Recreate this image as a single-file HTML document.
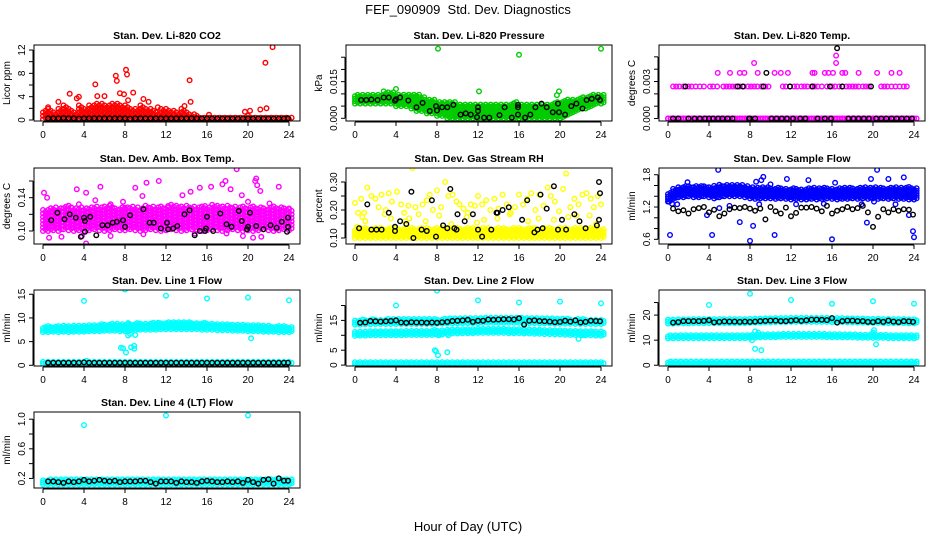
<!DOCTYPE html>
<html><head><meta charset="utf-8"><style>
html,body{margin:0;padding:0;background:#fff;}
svg{display:block;font-family:"Liberation Sans",Arial,sans-serif;}
</style></head><body>
<svg id="chart" width="936" height="540" viewBox="0 0 936 540" xmlns="http://www.w3.org/2000/svg">
<text x="468" y="14" font-size="13" text-anchor="middle">FEF_090909&#160; Std. Dev. Diagnostics</text>
<text x="468" y="531" font-size="13" text-anchor="middle">Hour of Day (UTC)</text>
</svg>
<script>
// ---------- data ----------
const xTicks = [0,4,8,12,16,20,24];
const halfHours = [0,0.5,1,1.5,2,2.5,3,3.5,4,4.5,5,5.5,6,6.5,7,7.5,8,8.5,9,9.5,10,10.5,11,11.5,12,12.5,13,13.5,14,14.5,15,15.5,16,16.5,17,17.5,18,18.5,19,19.5,20,20.5,21,21.5,22,22.5,23,23.5,24];
const blackTimes = [0.5,1,1.5,2,2.5,3,3.5,4,4.5,5,5.5,6,6.5,7,7.5,8,8.5,9,9.5,10,10.5,11,11.5,12,12.5,13,13.5,14,14.5,15,15.5,16,16.5,17,17.5,18,18.5,19,19.5,20,20.5,21,21.5,22,22.5,23,23.5,23.9];

// P1 CO2
const co2BandLo = [0.1,0.1,0.1,0.1,0.1,0.1,0.1,0.1,0.1,0.1,0.1,0.1,0.1,0.1,0.1,0.1,0.1,0.1,0.1,0.1,0.1,0.1,0.1,0.1,0.1,0.1,0.1,0.1,0.1,0.1,0.1,0.1,0.1,0.1,0.1,0.1,0.1,0.1,0.1,0.1,0.1,0.1,0.1,0.1,0.1,0.1,0.1,0.1,0.1];
const co2BandHi = [1.8,2,1.5,2,2.5,2,1.5,2.5,2,2.5,3,3,2.5,3,3,2.5,2.5,2,2,2.5,2,2,1.5,2,2,1.8,1.5,2,1.5,1.2,0.8,0.6,0.6,0.5,0.4,0.4,0.5,0.4,0.5,0.6,0.8,0.6,0.5,0.6,0.6,0.5,0.6,0.5,0.4];
const co2OutT = [0.5,1.5,2.6,3.3,3.5,5.1,5.3,6,7.1,7.2,7.5,7.9,8.1,8.2,8.3,8.8,9.8,10.3,11.2,14.3,14.4,13.8,16.2,19.7,20.2,21.2,21.7,21.8,22.4];
const co2OutV = [2.2,3.1,4.5,3.7,4.0,6.1,4.1,4.1,7.6,6.7,4.6,4.4,8.6,7.8,3.4,4.7,3.6,3.1,2.2,6.8,3.1,2.4,0.9,1.4,1.6,1.8,9.8,2.0,12.5];
const co2Black = [0.3,0.3,0.3,0.35,0.3,0.3,0.25,0.3,0.3,0.3,0.3,0.3,0.3,0.3,0.3,0.3,0.25,0.3,0.3,0.3,0.3,0.3,0.3,0.3,0.3,0.3,0.3,0.3,0.3,0.3,0.3,0.3,0.3,0.3,0.3,0.3,0.3,0.3,0.3,0.3,0.3,0.3,0.3,0.3,0.3,0.3,0.3,0.3];

// P2 Pressure
const presBandHi = [.010,.010,.010,.010,.010,.010,.011,.011,.010,.010,.010,.010,.010,.009,.008,.008,.007,.007,.007,.007,.006,.006,.006,.006,.006,.006,.006,.006,.006,.006,.006,.007,.006,.006,.006,.006,.006,.006,.006,.007,.007,.008,.008,.008,.009,.009,.010,.010,.010];
const presBandLo = [.006,.006,.006,.006,.006,.006,.006,.006,.005,.005,.005,.004,.003,.003,.002,.002,.001,.001,.000,.000,.000,.000,.000,.000,.000,.000,.000,.000,.000,.000,.000,.000,.000,.000,.000,.000,.000,.000,.000,.000,.000,.001,.002,.003,.004,.004,.005,.006,.006];
const presOutT = [8.1,16,24,12.1,19.9,4,2.8,19.7];
const presOutV = [0.0285,0.026,0.0285,0.011,0.011,0.012,0.011,0.0095];
const presBlackT = [0.6,1.1,1.6,2.2,2.8,3.3,3.9,4,4.4,5.2,6,6.6,7.3,7.9,8,8.5,9,9.6,10.3,10.8,11.3,11.9,12,12,12.6,13.1,14.1,14.6,15.3,15.9,15.9,15.9,16.6,17.1,17.6,18.2,18.7,19.3,19.8,19.9,20.5,21.1,21.6,22.2,22.6,23.1,23.7,23.9];
const presBlackV = [.0075,.0075,.0077,.0075,.0085,.0085,.0072,.0078,.0085,.0073,.0045,.0063,.0030,.0050,.0032,.0045,.0045,.0055,.0015,.0020,.0015,.0005,.0030,.0045,.0003,.0003,.0013,.0045,.0003,.0015,.0045,.0055,.0003,.0015,.0045,.0060,.0045,.0025,.0060,.0025,.0015,.0050,.0060,.0040,.0075,.0080,.0085,.0075];

// P3 Temp
const tempZeroLo = [0,0,0,0,0,0,0,0,0,0,0,0,0,0,0,0,0,0,0,0,0,0,0,0,0,0,0,0,0,0,0,0,0,0,0,0,0,0,0,0,0,0,0,0,0,0,0,0,0];
const tempZeroHi = [0,0,0,0,0,0,0,0,0,0,0,0,0,0,0,0,0,0,0,0,0,0,0,0,0,0,0,0,0,0,0,0,0,0,0,0,0,0,0,0,0,0,0,0,0,0,0,0,0];
const tempMidT = [0.5,0.8,1.1,1.5,2.0,2.3,2.7,3.1,3.5,4.1,4.4,4.8,5.4,5.7,6.0,6.3,6.6,7.0,7.4,7.8,8.1,8.4,8.7,9.1,9.5,9.8,11.2,11.5,11.9,12.3,12.6,13.0,13.3,13.6,14.0,14.3,14.6,15.0,15.5,16.0,16.3,16.7,17.0,17.4,17.7,18.0,18.3,18.6,19.0,19.3,19.6,20.8,21.1,21.4,21.8,22.2,22.6,23.0,23.3];
const tempMidV = [.0026,.0026,.0026,.0026,.0026,.0026,.0026,.0026,.0026,.0026,.0026,.0026,.0026,.0026,.0026,.0026,.0026,.0026,.0026,.0026,.0026,.0026,.0026,.0026,.0026,.0026,.0026,.0026,.0026,.0026,.0026,.0026,.0026,.0026,.0026,.0026,.0026,.0026,.0026,.0026,.0026,.0026,.0026,.0026,.0026,.0026,.0026,.0026,.0026,.0026,.0026,.0026,.0026,.0026,.0026,.0026,.0026,.0026,.0026];
const tempHiT = [4.85,6.05,7.0,7.45,8.4,8.75,10.4,11.0,11.7,14.1,14.3,15.3,15.65,16.1,16.4,16.4,17.0,17.3,18.6,20.4,21.8,22.6];
const tempHiV = [.0037,.0037,.0037,.0037,.0045,.0037,.0037,.0037,.0037,.0037,.0037,.0037,.0037,.0037,.0045,.0051,.0037,.0037,.0037,.0037,.0037,.0037];
const tempBlackT = [0.5,1,1.7,2,2.6,3.1,3.6,4,4.4,4.9,5.3,5.8,6.3,6.8,7.3,7.9,8,8.5,9.3,9.6,10.1,10.6,11.1,11.6,11.9,12.2,12.9,13.4,14.1,14.6,15.3,15.8,15.9,16.5,17.0,17.6,18.1,18.6,19.1,19.6,19.8,20.3,20.8,21.3,21.8,22.3,22.8,23.3,23.8];
const tempBlackV = [0,0,.0026,0,0,0,0,0,0,0,0,0,0,.0026,.0026,0,0,0,.0026,.0037,0,0,0,0,.0026,0,0,0,.0026,0,0,.0026,0,.0057,.0026,0,0,0,0,0,.0026,0,0,0,0,0,0,0,0];

// P4 Amb box temp
const ambBandLo = [.100,.100,.101,.100,.102,.101,.100,.101,.100,.101,.102,.101,.100,.101,.102,.101,.101,.102,.101,.100,.101,.102,.101,.100,.101,.102,.101,.100,.101,.102,.101,.100,.101,.102,.101,.100,.101,.102,.101,.100,.101,.100,.101,.102,.101,.100,.101,.102,.101];
const ambBandHi = [.126,.128,.130,.128,.130,.131,.129,.130,.128,.130,.131,.129,.130,.131,.129,.130,.130,.131,.130,.129,.131,.130,.129,.131,.130,.132,.131,.130,.132,.131,.130,.131,.130,.132,.131,.130,.132,.131,.130,.131,.130,.131,.130,.129,.130,.131,.130,.129,.128];
const ambOutT = [0.1,0.4,0.9,1.5,2.8,3.3,3.5,4.2,4.4,5.1,5.6,6.6,7.8,8,8.7,9.0,9.7,10.1,11.3,12.2,13.6,14.4,15.3,15.8,16.4,17.5,17.8,18.3,19.4,20.0,20.7,21.2,22.1,23.0,24,4.2,1.8,0.6,3.8,9.8,14.8,17.9,20.5,21.3,19.5,6.6,18.9,20.8,20.9];
const ambOutV = [.146,.14,.124,.125,.128,.15,.132,.146,.123,.137,.153,.132,.135,.128,.125,.152,.142,.158,.16,.13,.143,.147,.152,.13,.153,.156,.16,.15,.143,.135,.16,.148,.133,.153,.127,.085,.093,.092,.094,.096,.097,.097,.092,.093,.094,.094,.174,.163,.155];
const ambBlackT = [0.8,1.4,2.1,2.6,3.2,3.7,4.0,4.1,4.1,4.6,5.2,5.8,6.3,6.8,7.2,7.8,8,8.5,9,9.8,10.4,10.8,11.5,12.1,12.2,12.7,13.1,13.8,14.3,14.8,15.3,15.8,15.9,16,16.6,17.3,17.9,18.4,19.1,19.4,19.9,20,20.2,20.8,21.5,22.2,22.8,23.3,23.8,23.9,23.9];
const ambBlackV = [.113,.122,.114,.12,.116,.093,.116,.112,.099,.117,.095,.107,.107,.110,.111,.113,.105,.119,.081,.126,.110,.110,.103,.110,.102,.103,.106,.120,.125,.095,.100,.100,.103,.117,.100,.121,.108,.105,.124,.112,.102,.105,.122,.106,.102,.107,.104,.111,.099,.105,.116];

// P5 RH
const rhBandLo = [.100,.100,.100,.100,.100,.100,.100,.100,.100,.100,.100,.100,.100,.100,.100,.100,.100,.100,.100,.100,.100,.100,.100,.100,.100,.100,.100,.100,.100,.100,.100,.100,.100,.100,.100,.100,.100,.100,.100,.100,.100,.100,.100,.100,.100,.100,.100,.100,.100];
const rhBandHi = [.135,.14,.14,.135,.14,.14,.135,.14,.14,.135,.14,.14,.135,.14,.14,.135,.14,.14,.135,.14,.14,.135,.14,.14,.135,.14,.14,.135,.14,.14,.135,.14,.14,.135,.14,.14,.135,.14,.14,.135,.14,.14,.135,.14,.14,.135,.14,.14,.135];
const rhOutT = [0,.3,.6,.9,1.2,1.6,2,2.3,2.6,3,3.3,3.6,4.1,4.5,4.8,5.2,5.6,5.9,6.2,6.6,7,7.3,7.6,8,8.4,8.8,9.1,9.5,9.9,10.2,10.6,11,11.3,11.7,12,12.4,12.8,13.2,13.6,14,14.4,14.8,15.2,15.6,16,16.4,16.8,17.2,17.6,18,18.4,18.8,19.1,19.5,19.9,20.3,20.6,21,21.4,21.8,22.2,22.6,23,23.3,23.7,24,0.2,1.0,3.5,4.9,6.9,9.4,11.9,13.9,16.9,19.4,21.6,23.5,0.7,2.9,5.3,8.2,10.9,12.6,15.1,17.9,20.8,22.9];
const rhOutV = [.225,.19,.24,.19,.28,.25,.24,.21,.255,.2,.26,.23,.265,.22,.19,.215,.35,.21,.185,.22,.235,.255,.2,.27,.21,.3,.25,.255,.23,.22,.205,.19,.22,.215,.25,.22,.235,.2,.24,.205,.255,.22,.19,.21,.255,.22,.24,.26,.2,.255,.215,.28,.25,.23,.195,.275,.33,.21,.24,.22,.255,.26,.24,.21,.25,.22,.14,.16,.17,.16,.16,.15,.155,.17,.16,.165,.18,.15,.175,.185,.17,.18,.175,.165,.185,.17,.175,.18];
const rhBlackT = [0.4,1.2,1.6,2.1,2.6,3.3,3.9,3.9,4.4,5.0,5.5,5.7,6.5,7.0,7.5,7.9,8.6,9.0,9.3,9.7,9.9,10,10.7,11.5,12,12.4,13.3,13.8,13.9,14.4,15.0,16.3,16.8,17.5,17.8,18.1,18.3,18.7,19.4,19.8,20.2,20.6,21.4,21.9,22.5,23.6,23.8,23.8,23.9];
const rhBlackV = [.135,.22,.13,.13,.13,.19,.14,.125,.16,.15,.265,.1,.13,.125,.235,.105,.145,.135,.275,.135,.13,.185,.16,.185,.13,.105,.13,.19,.19,.2,.21,.165,.235,.12,.13,.255,.135,.205,.285,.13,.165,.13,.185,.16,.135,.145,.165,.3,.26];

// P6 Sample flow
const flowBandLo = [1.30,1.35,1.38,1.38,1.40,1.38,1.38,1.40,1.38,1.36,1.38,1.40,1.40,1.40,1.40,1.38,1.36,1.35,1.36,1.36,1.36,1.35,1.36,1.35,1.34,1.35,1.34,1.34,1.35,1.34,1.35,1.36,1.35,1.34,1.35,1.35,1.36,1.35,1.36,1.35,1.36,1.35,1.36,1.35,1.36,1.35,1.35,1.34,1.34];
const flowBandHi = [1.48,1.55,1.58,1.60,1.60,1.60,1.60,1.60,1.58,1.60,1.62,1.62,1.63,1.63,1.62,1.60,1.58,1.58,1.58,1.58,1.56,1.56,1.56,1.55,1.55,1.55,1.54,1.56,1.56,1.56,1.56,1.55,1.55,1.56,1.56,1.56,1.56,1.56,1.58,1.58,1.58,1.58,1.56,1.56,1.57,1.58,1.58,1.58,1.56];
const flowOutT = [0.2,4.9,4.3,8.0,8.3,10.4,16.0,20.4,24,23.9,19.4,1.9,8.6,9.1,10,11.6,13.7,16.3,19.8,21.5,23.0,23.5,5.0,9.3,3.8,6.0,8.9,7.0,18.9,20.1,0.1,0.4,0.9,12.5,15.2,22.2];
const flowOutV = [0.68,1.89,0.68,0.57,0.85,0.68,0.6,1.89,0.64,0.75,0.91,1.66,1.67,1.70,1.62,1.72,1.70,1.65,1.72,1.72,1.75,1.05,1.18,1.76,1.05,1.22,1.25,0.92,1.25,1.30,1.30,1.26,1.25,1.25,1.26,1.25];
const flowBlackV = [1.17,1.12,1.14,1.08,1.16,1.18,1.20,1.10,1.15,1.03,1.08,1.16,1.19,1.18,1.20,1.17,1.13,1.17,0.97,1.20,1.12,1.08,1.19,1.03,1.09,1.19,1.19,1.20,1.17,1.12,1.22,1.08,1.13,1.16,1.20,1.16,1.18,1.22,1.10,0.83,1.02,1.16,1.10,1.16,1.13,1.16,1.15,1.06];

// P7 Line 1
const l1UpperLo = [7.0,7.0,7.1,7.0,7.1,7.0,7.1,7.1,7.1,7.2,7.2,7.2,7.3,7.3,7.3,7.2,7.2,7.4,7.4,7.5,7.5,7.5,7.5,7.6,7.6,7.6,7.6,7.6,7.6,7.6,7.6,7.5,7.5,7.5,7.4,7.4,7.4,7.3,7.3,7.3,7.2,7.2,7.2,7.1,7.1,7.1,7.0,7.0,7.0];
const l1UpperHi = [8.2,8.3,8.3,8.4,8.4,8.4,8.5,8.5,8.5,8.6,8.6,8.7,8.7,8.8,8.8,8.7,8.7,8.8,8.9,8.9,8.9,9.0,9.0,9.0,9.1,9.1,9.1,9.1,9.1,9.0,9.0,9.0,8.9,8.9,8.8,8.8,8.7,8.7,8.6,8.6,8.5,8.5,8.5,8.4,8.4,8.3,8.3,8.3,8.2];
const l1LowerLo = [0.3,0.3,0.3,0.3,0.3,0.3,0.3,0.3,0.3,0.3,0.3,0.3,0.3,0.3,0.3,0.3,0.3,0.3,0.3,0.3,0.3,0.3,0.3,0.3,0.3,0.3,0.3,0.3,0.3,0.3,0.3,0.3,0.3,0.3,0.3,0.3,0.3,0.3,0.3,0.3,0.3,0.3,0.3,0.3,0.3,0.3,0.3,0.3,0.3];
const l1LowerHi = [0.9,0.9,0.9,0.9,0.9,0.9,0.9,0.9,1.0,0.9,0.9,0.9,0.9,0.9,0.9,0.9,0.9,0.9,0.9,0.9,0.9,0.9,0.9,0.9,0.9,0.9,0.9,0.9,0.9,0.9,0.9,0.9,0.9,0.9,0.9,0.9,0.9,0.9,0.9,0.9,0.9,0.9,0.9,0.9,0.9,0.9,0.9,0.9,0.9];
const l1OutT = [4,8,12,16,20,24,7.8,8.1,8.3,8.6,8.9,8.9,9,8.5,20.3,9.2,8.3,7.6];
const l1OutV = [13.6,16,14.7,14.1,14.3,13.7,3.6,2.7,6.3,3.8,4.1,3.5,6.4,6.6,5.7,8.9,8.9,3.7];
const l1BlackV = [0.55,0.55,0.55,0.55,0.55,0.55,0.55,0.6,0.55,0.55,0.55,0.55,0.55,0.55,0.55,0.55,0.55,0.55,0.55,0.55,0.55,0.55,0.55,0.55,0.55,0.55,0.55,0.55,0.55,0.55,0.55,0.55,0.55,0.55,0.55,0.55,0.55,0.55,0.55,0.55,0.55,0.55,0.55,0.55,0.55,0.55,0.55,0.55];

// P8 Line 2
const l2UpperLo = [13.6,13.6,13.7,13.7,13.8,13.8,13.8,13.8,13.8,13.8,13.8,13.8,13.8,13.8,13.8,13.8,13.9,13.9,14.0,14.0,14.0,14.1,14.1,14.1,14.1,14.2,14.2,14.2,14.2,14.2,14.2,14.2,14.2,14.1,14.1,14.1,14.0,14.0,14.0,13.9,13.9,13.9,13.9,13.8,13.8,13.8,13.8,13.8,13.8];
const l2UpperHi = [15.2,15.3,15.3,15.4,15.4,15.4,15.5,15.5,15.5,15.5,15.5,15.5,15.5,15.5,15.5,15.5,15.5,15.6,15.7,15.7,15.8,15.8,15.9,15.9,16.0,16.0,16.1,16.1,16.1,16.1,16.1,16.0,16.0,16.0,15.9,15.9,15.8,15.8,15.7,15.7,15.6,15.6,15.5,15.5,15.5,15.4,15.4,15.4,15.3];
const l2MidLo = [9.8,9.9,9.9,10.0,10.0,10.0,10.0,10.0,10.0,10.0,10.1,10.1,10.1,10.1,10.1,10.1,10.2,10.3,10.5,10.6,10.6,10.7,10.7,10.7,10.8,10.8,10.8,10.8,10.8,10.8,10.7,10.7,10.7,10.6,10.6,10.5,10.5,10.4,10.4,10.3,10.3,10.2,10.1,10.1,10.0,10.0,10.0,9.9,9.9];
const l2MidHi = [11.2,11.3,11.3,11.4,11.4,11.4,11.5,11.5,11.5,11.5,11.6,11.6,11.6,11.7,11.7,11.8,11.8,11.9,12.0,12.1,12.1,12.2,12.2,12.2,12.3,12.3,12.3,12.3,12.3,12.3,12.2,12.2,12.2,12.1,12.1,12.0,12.0,12.0,11.9,11.9,11.8,11.8,11.7,11.6,11.6,11.5,11.5,11.4,11.4];
const l2LowLo = [0.3,0.3,0.3,0.3,0.3,0.3,0.3,0.3,0.3,0.3,0.3,0.3,0.3,0.3,0.3,0.3,0.3,0.3,0.3,0.3,0.3,0.3,0.3,0.3,0.3,0.3,0.3,0.3,0.3,0.3,0.3,0.3,0.3,0.3,0.3,0.3,0.3,0.3,0.3,0.3,0.3,0.3,0.3,0.3,0.3,0.3,0.3,0.3,0.3];
const l2LowHi = [1.2,1.2,1.2,1.2,1.2,1.2,1.2,1.2,1.2,1.2,1.2,1.2,1.2,1.2,1.2,1.2,1.2,1.2,1.2,1.2,1.2,1.2,1.2,1.2,1.2,1.2,1.2,1.2,1.2,1.2,1.2,1.2,1.2,1.2,1.2,1.2,1.2,1.2,1.2,1.2,1.2,1.2,1.2,1.2,1.2,1.2,1.2,1.2,1.2];
const l2OutT = [4,8,12,16,20,24,7.8,8.1,9,7.9,8.2,9.1,21.8,22.3,10.6];
const l2OutV = [20,25,21.7,21,21.3,20.7,5,3.3,4.3,4.6,10,10,8.8,10,0];
const l2BlackV = [14.2,14.3,14.8,14.7,14.6,14.7,14.8,15.0,14.3,14.2,14.4,14.3,14.3,14.2,14.3,14.2,14.4,14.5,14.8,14.9,15.0,15.2,14.5,14.9,14.9,15.3,15.2,15.3,15.4,15.4,15.3,15.7,13.6,14.9,15.0,14.8,14.7,14.6,14.4,14.5,14.9,14.6,15.0,14.3,14.5,14.9,14.8,14.7];

// P9 Line 3
const l3UpperLo = [16.6,16.6,16.7,16.7,16.7,16.8,16.8,16.8,16.8,16.8,16.8,16.8,16.8,16.8,16.8,16.8,16.9,17.0,17.0,17.1,17.1,17.2,17.2,17.2,17.3,17.3,17.3,17.3,17.3,17.3,17.3,17.3,17.2,17.2,17.2,17.1,17.1,17.0,17.0,16.9,16.9,16.9,16.8,16.8,16.8,16.8,16.8,16.7,16.7];
const l3UpperHi = [18.2,18.3,18.3,18.4,18.4,18.4,18.4,18.5,18.5,18.5,18.5,18.5,18.5,18.5,18.5,18.5,18.6,18.7,18.8,18.9,19.0,19.0,19.1,19.1,19.2,19.2,19.2,19.2,19.2,19.2,19.1,19.1,19.1,19.0,19.0,18.9,18.9,18.8,18.8,18.7,18.7,18.6,18.6,18.5,18.5,18.5,18.4,18.4,18.4];
const l3MidLo = [10.7,10.7,10.8,10.8,10.8,10.8,10.8,10.8,10.8,10.8,10.8,10.8,10.8,10.8,10.8,10.8,10.9,11.0,11.1,11.2,11.2,11.2,11.3,11.3,11.3,11.3,11.3,11.3,11.3,11.3,11.3,11.2,11.2,11.2,11.1,11.1,11.1,11.0,11.0,11.0,10.9,10.9,10.9,10.8,10.8,10.8,10.8,10.8,10.7];
const l3MidHi = [12.0,12.0,12.1,12.1,12.1,12.1,12.1,12.1,12.1,12.1,12.1,12.1,12.1,12.1,12.1,12.1,12.2,12.3,12.4,12.5,12.5,12.6,12.6,12.6,12.6,12.6,12.6,12.6,12.6,12.6,12.5,12.5,12.5,12.5,12.4,12.4,12.4,12.3,12.3,12.3,12.2,12.2,12.2,12.1,12.1,12.1,12.0,12.0,12.0];
const l3LowLo = [0.3,0.3,0.3,0.3,0.3,0.3,0.3,0.3,0.3,0.3,0.3,0.3,0.3,0.3,0.3,0.3,0.3,0.3,0.3,0.3,0.3,0.3,0.3,0.3,0.3,0.3,0.3,0.3,0.3,0.3,0.3,0.3,0.3,0.3,0.3,0.3,0.3,0.3,0.3,0.3,0.3,0.3,0.3,0.3,0.3,0.3,0.3,0.3,0.3];
const l3LowHi = [1.5,1.5,1.5,1.5,1.5,1.5,1.5,1.5,1.5,1.5,1.5,1.5,1.5,1.5,1.5,1.5,1.5,1.5,1.5,1.5,1.5,1.5,1.5,1.5,1.5,1.5,1.5,1.5,1.5,1.5,1.5,1.5,1.5,1.5,1.5,1.5,1.5,1.5,1.5,1.5,1.5,1.5,1.5,1.5,1.5,1.5,1.5,1.5,1.5];
const l3OutT = [4,8,12,16,20,24,8.2,8.5,9.1,8.8,20.1,20.3,20,8.5,9.0];
const l3OutV = [24,28.5,26,24.5,25.5,24.5,10,6.5,6,13,14,8.3,13,13.5,0];
const l3BlackV = [17.0,17.2,17.6,17.6,17.6,17.6,17.7,17.9,17.1,17.3,17.5,17.4,17.4,17.3,17.4,17.3,17.4,17.6,17.7,17.8,17.8,17.6,17.6,17.8,18.0,17.7,17.9,18.2,18.2,18.1,18.0,18.8,17.0,17.6,17.8,17.8,17.6,17.6,17.3,17.2,17.6,17.3,17.8,17.4,17.2,17.6,17.5,17.3];

// P10 Line 4
const l4BandLo = [0.12,0.12,0.12,0.12,0.12,0.12,0.12,0.12,0.12,0.12,0.12,0.12,0.12,0.12,0.12,0.12,0.12,0.12,0.12,0.12,0.12,0.12,0.12,0.12,0.12,0.12,0.12,0.12,0.12,0.12,0.12,0.12,0.12,0.12,0.12,0.12,0.12,0.12,0.12,0.12,0.12,0.12,0.12,0.12,0.12,0.12,0.12,0.12,0.12];
const l4BandHi = [0.18,0.19,0.19,0.19,0.19,0.19,0.19,0.20,0.19,0.19,0.19,0.19,0.19,0.19,0.20,0.19,0.19,0.19,0.19,0.19,0.19,0.19,0.19,0.19,0.19,0.19,0.19,0.19,0.19,0.19,0.19,0.19,0.19,0.19,0.19,0.19,0.19,0.19,0.19,0.19,0.20,0.19,0.19,0.19,0.19,0.19,0.19,0.19,0.19];
const l4OutT = [4,12,20];
const l4OutV = [0.92,1.05,1.05];
const l4BlackV = [0.16,0.16,0.15,0.14,0.16,0.15,0.16,0.18,0.16,0.17,0.18,0.17,0.16,0.17,0.15,0.16,0.16,0.16,0.17,0.17,0.15,0.13,0.16,0.16,0.16,0.14,0.16,0.15,0.15,0.14,0.16,0.17,0.16,0.15,0.15,0.16,0.15,0.16,0.14,0.18,0.15,0.13,0.18,0.19,0.13,0.20,0.17,0.17];

// ---------- rendering ----------
const NS = 'http://www.w3.org/2000/svg';
const svg = document.getElementById('chart');
const RED='#ff0000', GREEN='#00cc00', MAG='#ff00ff', YEL='#ffff00', BLUE='#0000ff', CYAN='#00ffff', BLK='#000000';
function mk(tag, attrs){ const e=document.createElementNS(NS,tag); for(const k in attrs) e.setAttribute(k,attrs[k]); return e; }

const panels = [
 {key:'co2', col:0,row:0,title:'Stan. Dev. Li-820 CO2',ylab:'Licor ppm',ylim:[-0.17,12.86],ticks:[0,2,4,6,8,10,12],labels:[0,4,8,12],fmt:0,
  bands:[[RED,co2BandLo,co2BandHi,3.5]],pts:[[RED,co2OutT,co2OutV],[BLK,blackTimes,co2Black]]},
 {key:'pressure', col:1,row:0,title:'Stan. Dev. Li-820 Pressure',ylab:'kPa',ylim:[-0.0011,0.030],ticks:[0,0.005,0.01,0.015,0.02,0.025],labels:[0,0.015],fmt:3,
  bands:[[GREEN,presBandLo,presBandHi,2.5]],pts:[[GREEN,presOutT,presOutV],[BLK,presBlackT,presBlackV]]},
 {key:'temp', col:2,row:0,title:'Stan. Dev. Li-820 Temp.',ylab:'degrees C',ylim:[-0.0002,0.00596],ticks:[0,0.001,0.002,0.003,0.004,0.005],labels:[0,0.003],fmt:3,
  bands:[[MAG,tempZeroLo,tempZeroHi,2]],pts:[[MAG,tempMidT,tempMidV],[MAG,tempHiT,tempHiV],[BLK,tempBlackT,tempBlackV]]},
 {key:'amb-box-temp', col:0,row:1,title:'Stan. Dev. Amb. Box Temp.',ylab:'degrees C',ylim:[0.0844,0.1756],ticks:[0.10,0.12,0.14,0.16],labels:[0.10,0.14],fmt:2,
  bands:[[MAG,ambBandLo,ambBandHi,3.5]],pts:[[MAG,ambOutT,ambOutV],[BLK,ambBlackT,ambBlackV]]},
 {key:'gas-rh', col:1,row:1,title:'Stan. Dev. Gas Stream RH',ylab:'percent',ylim:[0.0786,0.35],ticks:[0.10,0.15,0.20,0.25,0.30],labels:[0.10,0.20,0.30],fmt:2,
  bands:[[YEL,rhBandLo,rhBandHi,2.5]],pts:[[YEL,rhOutT,rhOutV],[BLK,rhBlackT,rhBlackV]]},
 {key:'sample-flow', col:2,row:1,title:'Stan. Dev. Sample Flow',ylab:'ml/min',ylim:[0.513,1.925],ticks:[0.6,0.8,1.0,1.2,1.4,1.6,1.8],labels:[0.6,1.2,1.8],fmt:1,
  bands:[[BLUE,flowBandLo,flowBandHi,2.5]],pts:[[BLUE,flowOutT,flowOutV],[BLK,blackTimes,flowBlackV]]},
 {key:'line1-flow', col:0,row:2,title:'Stan. Dev. Line 1 Flow',ylab:'ml/min',ylim:[-0.15,15.9],ticks:[0,5,10,15],labels:[0,5,10,15],fmt:0,
  bands:[[CYAN,l1UpperLo,l1UpperHi,2],[CYAN,l1LowerLo,l1LowerHi,2]],pts:[[CYAN,l1OutT,l1OutV],[BLK,blackTimes,l1BlackV]]},
 {key:'line2-flow', col:1,row:2,title:'Stan. Dev. Line 2 Flow',ylab:'ml/min',ylim:[-0.3,25.2],ticks:[0,5,10,15,20],labels:[0,5,15],fmt:0,
  bands:[[CYAN,l2UpperLo,l2UpperHi,2],[CYAN,l2MidLo,l2MidHi,2],[CYAN,l2LowLo,l2LowHi,2]],pts:[[CYAN,l2OutT,l2OutV],[BLK,blackTimes,l2BlackV]]},
 {key:'line3-flow', col:2,row:2,title:'Stan. Dev. Line 3 Flow',ylab:'ml/min',ylim:[-0.3,30],ticks:[0,10,20,25],labels:[0,10,20],fmt:0,
  bands:[[CYAN,l3UpperLo,l3UpperHi,2],[CYAN,l3MidLo,l3MidHi,2],[CYAN,l3LowLo,l3LowHi,2]],pts:[[CYAN,l3OutT,l3OutV],[BLK,blackTimes,l3BlackV]]},
 {key:'line4-flow', col:0,row:3,title:'Stan. Dev. Line 4 (LT) Flow',ylab:'ml/min',ylim:[0.071,1.097],ticks:[0.2,0.4,0.6,0.8,1.0],labels:[0.2,0.6,1.0],fmt:1,
  bands:[[CYAN,l4BandLo,l4BandHi,2]],pts:[[CYAN,l4OutT,l4OutV],[BLK,blackTimes,l4BlackV]]}
];
const colLeft=[34,346,659], rowTop=[45,168,290,412], BW=266, BH=76;

panels.forEach(p=>{
  const L=colLeft[p.col], T=rowTop[p.row];
  const xs = t => L+9+t*(246/24);
  const ys = v => T+BH-(v-p.ylim[0])/(p.ylim[1]-p.ylim[0])*BH;
  const g = mk('g',{});
  
  
  svg.appendChild(g);
  const clip = mk('clipPath',{id:'clip-'+p.key}); clip.appendChild(mk('rect',{x:L,y:T,width:BW,height:BH})); g.appendChild(clip);
  const pg = mk('g',{'clip-path':'url(#clip-'+p.key+')'});
  
  
  g.appendChild(pg);
  function dot(x,y,c){ const el=mk('circle',{cx:x.toFixed(1),cy:y.toFixed(1),r:2.3,fill:'none',stroke:c,'stroke-width':1.4});
    
    
    pg.appendChild(el); }
  p.bands.forEach(b=>{
    const [c,lo,hi,step]=b;
    halfHours.forEach((t,i)=>{
      const y0=ys(lo[i]), y1=ys(hi[i]);
      for(let y=y0; y>=y1-0.01; y-=step) dot(xs(t),y,c);
      if(y0-y1<0.5) dot(xs(t),y0,c);
      for(let y=y0-step/2; y>=y1-0.01; y-=step) dot(xs(t+0.25),y,c);
      if(y0-y1<0.5) dot(xs(t+0.25),y0,c);
    });
  });
  p.pts.forEach(s=>{ const [c,ts,vs]=s; ts.forEach((t,i)=>dot(xs(t),ys(vs[i]),c)); });
  const box=mk('rect',{x:L,y:T,width:BW,height:BH,fill:'none',stroke:'#000','stroke-width':1});
  
  
  g.appendChild(box);
  const tt=mk('text',{x:L+BW/2,y:T-6,'font-size':10.5,'font-weight':'bold','text-anchor':'middle'}); tt.textContent=p.title;
  
  
  g.appendChild(tt);
  const xa=mk('g',{});
  
  
  g.appendChild(xa);
  xa.appendChild(mk('line',{x1:xs(0),x2:xs(24),y1:T+BH+1,y2:T+BH+1,stroke:'#000'}));
  xTicks.forEach(t=>{
    xa.appendChild(mk('line',{x1:xs(t),x2:xs(t),y1:T+BH+1,y2:T+BH+5,stroke:'#000'}));
    const l=mk('text',{x:xs(t),y:T+BH+17,'font-size':10,'text-anchor':'middle'}); l.textContent=t;
    
    
    xa.appendChild(l);
  });
  const ya=mk('g',{});
  
  
  g.appendChild(ya);
  ya.appendChild(mk('line',{x1:L-1,x2:L-1,y1:ys(p.ticks[0]),y2:ys(p.ticks[p.ticks.length-1]),stroke:'#000'}));
  p.ticks.forEach(v=>ya.appendChild(mk('line',{x1:L-5,x2:L-1,y1:ys(v),y2:ys(v),stroke:'#000'})));
  p.labels.forEach(v=>{
    const x=L-9, y=ys(v);
    const l=mk('text',{x:x,y:y,'font-size':10,'text-anchor':'middle',transform:`rotate(-90 ${x} ${y})`}); l.textContent=v.toFixed(p.fmt);
    
    
    ya.appendChild(l);
  });
  const yl=mk('text',{x:L-24,y:T+BH/2,'font-size':10,'text-anchor':'middle',transform:`rotate(-90 ${L-24} ${T+BH/2})`}); yl.textContent=p.ylab;
  
  
  ya.appendChild(yl);
});
</script>
</body></html>
